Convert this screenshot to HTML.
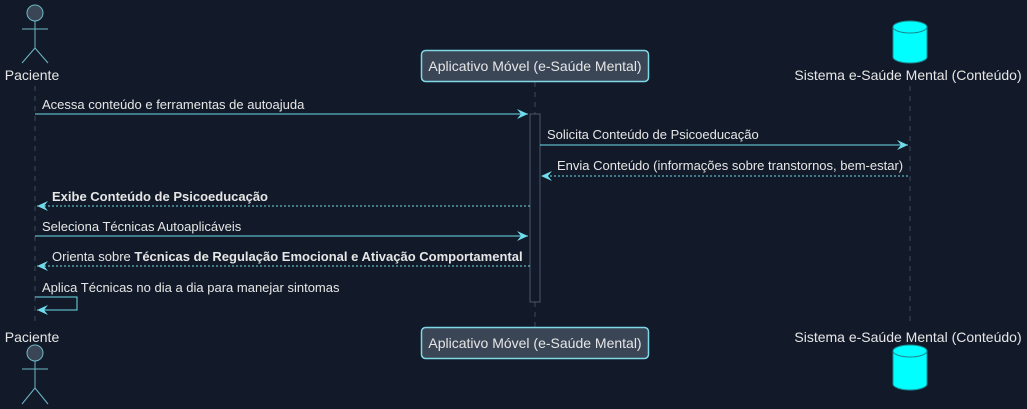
<!DOCTYPE html>
<html><head><meta charset="utf-8"><style>
html,body{margin:0;padding:0;background:#121a29;}
svg{display:block;}
text{font-family:"Liberation Sans",sans-serif;font-size:13px;fill:#e6e6e6;}
text.p{font-size:14px;}
</style></head><body>
<svg width="1027" height="409" viewBox="0 0 1027 409" xmlns="http://www.w3.org/2000/svg">
<defs>
<marker id="a" markerWidth="12" markerHeight="10" refX="11" refY="5" orient="auto" markerUnits="userSpaceOnUse">
<path d="M0,0 L11,5 L0,10 L4,5 Z" fill="#6fdcec"/>
</marker>
</defs>
<rect width="1027" height="409" fill="#121a29"/>
<g stroke="#3d4858" stroke-dasharray="5,5" stroke-width="1">
<line x1="35" y1="86" x2="35" y2="326"/>
<line x1="535" y1="82" x2="535" y2="327"/>
<line x1="910" y1="86" x2="910" y2="326"/>
</g>
<rect x="530" y="114" width="10" height="188" fill="#121a29" stroke="#4a5566"/>
<g stroke="#6fb8c6" stroke-width="1" fill="none">
<circle cx="35" cy="13" r="8" fill="#3a4556"/>
<line x1="35" y1="21" x2="35" y2="48"/><line x1="22" y1="29" x2="48" y2="29"/>
<line x1="35" y1="48" x2="22" y2="63"/><line x1="35" y1="48" x2="48" y2="63"/>
<circle cx="35" cy="353" r="8" fill="#3a4556"/>
<line x1="35" y1="361" x2="35" y2="388"/><line x1="22" y1="369" x2="48" y2="369"/>
<line x1="35" y1="388" x2="22" y2="404"/><line x1="35" y1="388" x2="48" y2="404"/>
</g>
<text class="p" x="32" y="80" text-anchor="middle">Paciente</text>
<text class="p" x="32" y="342" text-anchor="middle">Paciente</text>
<rect x="421.5" y="50.5" width="227" height="31" rx="4" fill="#3a4556" stroke="#7fd8e8" stroke-width="1.5"/>
<text class="p" x="535" y="71" text-anchor="middle">Aplicativo Móvel (e-Saúde Mental)</text>
<rect x="421.5" y="327.5" width="227" height="31" rx="4" fill="#3a4556" stroke="#7fd8e8" stroke-width="1.5"/>
<text class="p" x="535" y="348" text-anchor="middle">Aplicativo Móvel (e-Saúde Mental)</text>
<g fill="#00ffff" stroke="#1a8a92" stroke-width="1">
<path d="M893,27 L893,57 A17,6 0 0 0 927,57 L927,27"/>
<ellipse cx="910" cy="27" rx="17" ry="6"/>
<path d="M893,351 L893,384 A17,6 0 0 0 927,384 L927,351"/>
<ellipse cx="910" cy="351" rx="17" ry="6"/>
</g>
<text class="p" x="908" y="80" text-anchor="middle">Sistema e-Saúde Mental (Conteúdo)</text>
<text class="p" x="908" y="342" text-anchor="middle">Sistema e-Saúde Mental (Conteúdo)</text>
<g stroke="#6fdcec" stroke-width="1" fill="none">
<line x1="35" y1="114" x2="528" y2="114" marker-end="url(#a)"/>
<line x1="540" y1="145" x2="908" y2="145" marker-end="url(#a)"/>
<line x1="908" y1="176" x2="541" y2="176" stroke-dasharray="2,2" marker-end="url(#a)"/>
<line x1="530" y1="206" x2="37" y2="206" stroke-dasharray="2,2" marker-end="url(#a)"/>
<line x1="35" y1="236" x2="528" y2="236" marker-end="url(#a)"/>
<line x1="530" y1="266" x2="37" y2="266" stroke-dasharray="2,2" marker-end="url(#a)"/>
<polyline points="35,297 77,297 77,310 37,310" marker-end="url(#a)"/>
</g>
<text x="42" y="109">Acessa conteúdo e ferramentas de autoajuda</text>
<text x="547" y="139">Solicita Conteúdo de Psicoeducação</text>
<text x="557" y="170">Envia Conteúdo (informações sobre transtornos, bem-estar)</text>
<text x="52" y="201" font-weight="bold">Exibe Conteúdo de Psicoeducação</text>
<text x="42" y="231">Seleciona Técnicas Autoaplicáveis</text>
<text x="52" y="261">Orienta sobre <tspan font-weight="bold">Técnicas de Regulação Emocional e Ativação Comportamental</tspan></text>
<text x="42" y="292">Aplica Técnicas no dia a dia para manejar sintomas</text>
</svg>
</body></html>
